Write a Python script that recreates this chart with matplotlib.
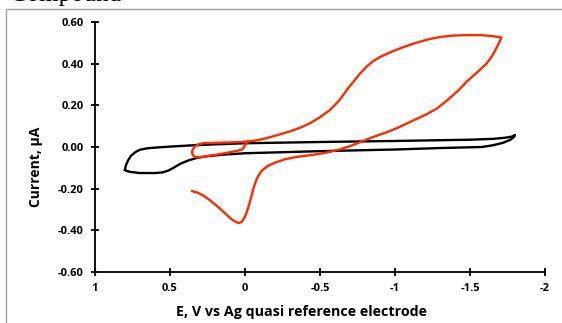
import matplotlib.pyplot as plt
from matplotlib.patches import Rectangle

# black trace (blank / reference scan)
black_e = [0.80, 0.795, 0.78, 0.76, 0.73, 0.70, 0.65, 0.58, 0.5, 0.3, 0.0, -0.5, -1.0, -1.5, -1.65,
           -1.73, -1.78, -1.80,
           -1.795, -1.77, -1.72, -1.65, -1.58, -1.3, -1.0, -0.5, 0.0, 0.15, 0.25, 0.32, 0.38, 0.43,
           0.47, 0.51, 0.55, 0.6, 0.7, 0.76, 0.79, 0.80]
black_i = [-0.11, -0.09, -0.065, -0.042, -0.024, -0.013, -0.006, -0.002, 0.002, 0.010, 0.018, 0.024,
           0.029, 0.035, 0.039, 0.044, 0.05, 0.058,
           0.05, 0.035, 0.02, 0.008, 0.0, -0.005, -0.012, -0.02, -0.03, -0.037, -0.044, -0.052,
           -0.065, -0.08, -0.097, -0.113, -0.122, -0.125, -0.125, -0.12, -0.115, -0.11]

# red trace (compound)
red_e = [0.353, 0.32, 0.28, 0.24, 0.20, 0.16, 0.12, 0.09, 0.06, 0.04, 0.02, 0.0, -0.02, -0.04,
         -0.06, -0.08, -0.11, -0.15, -0.2, -0.27, -0.35, -0.45, -0.55, -0.63, -0.7, -0.77, -0.85,
         -0.95, -1.03, -1.12, -1.2, -1.28, -1.35, -1.42, -1.48, -1.55, -1.61, -1.65, -1.68, -1.70,
         -1.71,
         -1.69, -1.64, -1.57, -1.48, -1.39, -1.30, -1.23, -1.14, -1.05, -0.97, -0.90, -0.85, -0.81,
         -0.77, -0.73, -0.68, -0.63, -0.57, -0.5, -0.43, -0.37, -0.30, -0.23, -0.16, -0.1, -0.05,
         0.0,
         0.1, 0.2, 0.28, 0.315, 0.338, 0.352, 0.352, 0.34, 0.32, 0.28, 0.2, 0.12, 0.05, 0.02,
         0.005, 0.0, -0.02]
red_i = [-0.212, -0.218, -0.232, -0.252, -0.275, -0.30, -0.327, -0.347, -0.36, -0.365, -0.358,
         -0.335, -0.295, -0.245, -0.19, -0.15, -0.115, -0.092, -0.075, -0.058, -0.047, -0.038,
         -0.026, -0.012, 0.004, 0.024, 0.047, 0.072, 0.096, 0.127, 0.153, 0.185, 0.225, 0.27,
         0.315, 0.36, 0.40, 0.44, 0.48, 0.51, 0.525,
         0.528, 0.533, 0.537, 0.537, 0.535, 0.528, 0.518, 0.50, 0.478, 0.455, 0.432, 0.41, 0.385,
         0.355, 0.32, 0.275, 0.225, 0.18, 0.143, 0.113, 0.093, 0.075, 0.06, 0.046, 0.035, 0.029,
         0.025,
         0.022, 0.02, 0.018, 0.012, 0.0, -0.018, -0.032, -0.045, -0.05, -0.047, -0.038, -0.028,
         -0.018, -0.012, 0.0, 0.012, 0.025]

x_ticks = [1, 0.5, 0, -0.5, -1, -1.5, -2]
x_tick_labels = ["1", "0.5", "0", "-0.5", "-1", "-1.5", "-2"]
y_ticks = [-0.6, -0.4, -0.2, 0.0, 0.2, 0.4, 0.6]

plt.rcParams['font.family'] = ['Open Sans', 'DejaVu Sans']

fig = plt.figure(figsize=(5.62, 3.23), dpi=100)
ax = fig.add_axes([95 / 562, 1 - 272 / 323, 450 / 562, 250 / 323])

ax.plot(black_e, black_i, color="black", lw=1.7, solid_joinstyle="round")
ax.plot(red_e, red_i, color="#ff2a00", lw=1.7, solid_joinstyle="round")

ax.set_xlim(1, -2)
ax.set_ylim(-0.6, 0.6)
ax.set_xticks(x_ticks)
ax.set_xticklabels(x_tick_labels)
ax.set_yticks(y_ticks)
ax.set_yticklabels([f"{v:.2f}" for v in y_ticks])

for s in ["top", "right"]:
    ax.spines[s].set_visible(False)
for s in ["left", "bottom"]:
    ax.spines[s].set_linewidth(1.3)
ax.tick_params(direction="inout", length=6, width=1.3, labelsize=8, pad=5)
for lbl in ax.get_xticklabels() + ax.get_yticklabels():
    lbl.set_fontweight("bold")

fig.text(36 / 562, 1 - 167 / 323, "Current, µA", rotation=90, ha="center", va="center",
         fontsize=10, fontweight="bold")
fig.text(301 / 562, 1 - 312 / 323, "E, V vs Ag quasi reference electrode", ha="center",
         va="center", fontsize=10.3, fontweight="bold")

# caption text above, mostly cut off by the image edge
fig.text(10 / 562, 1 - 1.5 / 323, "Compound", family="Liberation Serif", fontsize=18,
         va="baseline", ha="left")

# grey chart-area frame
fig.patches.append(Rectangle((5.5 / 562, -0.1), 1.0, 1.1 - 9.5 / 323, transform=fig.transFigure,
                             fill=False, edgecolor="#a0a0a0", lw=1.0))

fig.savefig("out.png", dpi=100)
